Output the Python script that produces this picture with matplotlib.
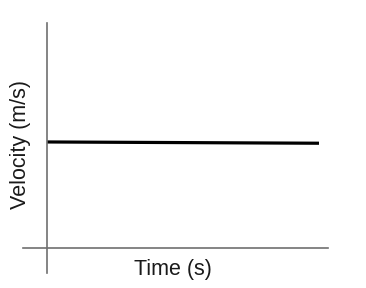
import matplotlib
matplotlib.use("Agg")
import matplotlib.pyplot as plt

# 数据：匀速运动（速度几乎不变）
time_s = [0.0, 10.0]
velocity = [5.0, 4.94]

x_label = "Time (s)"
y_label = "Velocity (m/s)"

plt.rcParams["font.family"] = ["Liberation Sans", "DejaVu Sans"]

fig = plt.figure(figsize=(3.66, 2.88), dpi=100)
ax = fig.add_axes([0.0628, 0.0521, 0.8333, 0.868])

ax.plot(time_s, velocity, color="black", linewidth=2.3, solid_capstyle="butt")

ax.set_xlim(-0.88, 10.33)
ax.set_ylim(-1.18, 10.61)

# 坐标轴穿过原点
for side in ["right", "top"]:
    ax.spines[side].set_visible(False)
ax.spines["left"].set_position(("data", 0))
ax.spines["bottom"].set_position(("data", 0))
for side in ["left", "bottom"]:
    ax.spines[side].set_color("#707070")
    ax.spines[side].set_linewidth(1.2)
ax.set_xticks([])
ax.set_yticks([])
ax.patch.set_visible(False)

fig.text(0.473, 0.0625, x_label, ha="center", va="center", fontsize=15.5, color="#1a1a1a")
fig.text(0.057, 0.498, y_label, ha="center", va="center", rotation=90,
         fontsize=15.5, color="#1a1a1a")

fig.savefig("out.png", dpi=100)
